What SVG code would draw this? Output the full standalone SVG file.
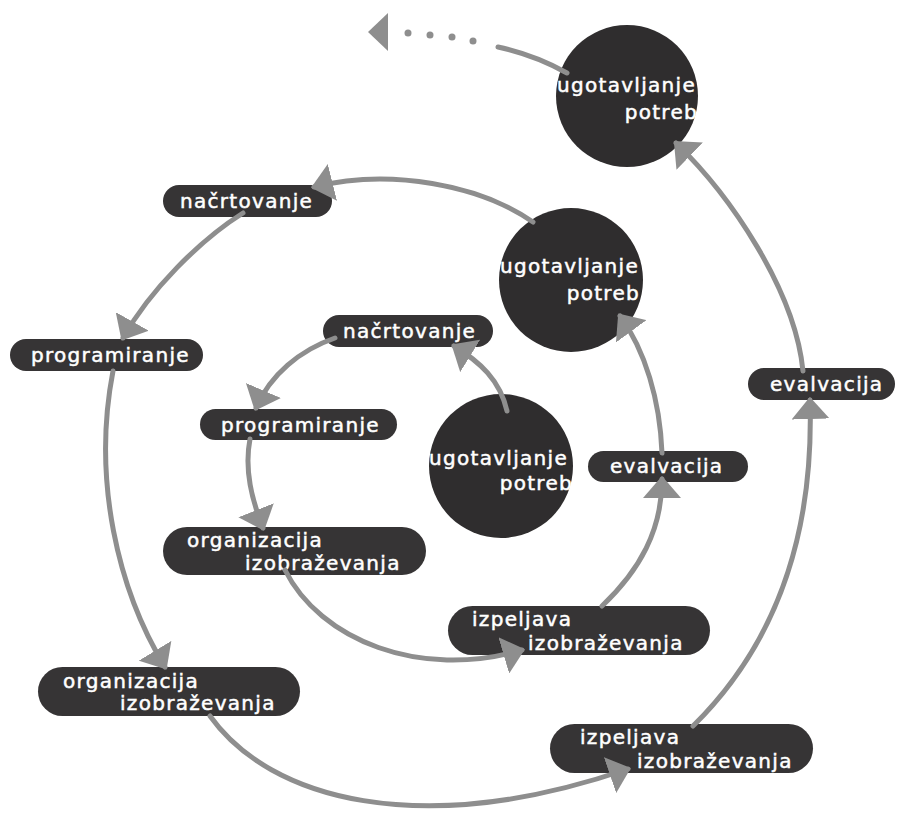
<svg xmlns="http://www.w3.org/2000/svg" width="900" height="819" viewBox="0 0 900 819">
<defs>
<style>
.pill{fill:#363435}
.circ{fill:#2f2d2e}
.t{font-family:"DejaVu Sans","Liberation Sans",sans-serif;font-size:20px;fill:#ffffff;stroke:#ffffff;stroke-width:0.5;letter-spacing:1.3px}
.tr{text-anchor:end}
.con{fill:none;stroke:#8e8e8e;stroke-width:5;stroke-linecap:round;marker-end:url(#ah)}
.dot{fill:#8e8e8e}
</style>
<marker id="ah" viewBox="0 0 22 38" refX="19" refY="19" markerWidth="22" markerHeight="38" markerUnits="userSpaceOnUse" orient="auto">
<path d="M0,0 L22,19 L0,38 z" fill="#8e8e8e"/>
</marker>
</defs>
<rect width="900" height="819" fill="#ffffff"/>

<g id="c_top">
<circle class="circ" cx="627" cy="96" r="71"/>
<text class="t" x="557" y="92">ugotavljanje</text>
<text class="t tr" x="698" y="119">potreb</text>
</g>
<g id="c_mid">
<circle class="circ" cx="571" cy="280" r="72"/>
<text class="t" x="500" y="273">ugotavljanje</text>
<text class="t tr" x="640" y="300">potreb</text>
</g>
<g id="c_inner">
<circle class="circ" cx="501" cy="466" r="72"/>
<text class="t" x="429" y="465">ugotavljanje</text>
<text class="t tr" x="573" y="490">potreb</text>
</g>

<g id="n_outer">
<rect class="pill" x="163" y="185" width="169" height="32" rx="16"/>
<text class="t" x="180" y="208">načrtovanje</text>
</g>
<g id="n_inner">
<rect class="pill" x="323" y="315" width="170" height="32" rx="16"/>
<text class="t" x="343" y="338">načrtovanje</text>
</g>
<g id="p_outer">
<rect class="pill" x="10" y="339" width="193" height="32" rx="16"/>
<text class="t" x="31" y="362">programiranje</text>
</g>
<g id="p_inner">
<rect class="pill" x="200" y="409" width="197" height="31" rx="15.5"/>
<text class="t" x="221" y="432">programiranje</text>
</g>
<g id="o_inner">
<rect class="pill" x="163" y="527" width="263" height="48" rx="24"/>
<text class="t" x="187" y="547">organizacija</text>
<text class="t" x="245" y="570">izobraževanja</text>
</g>
<g id="o_outer">
<rect class="pill" x="38" y="667" width="262" height="49" rx="24.5"/>
<text class="t" x="63" y="688">organizacija</text>
<text class="t" x="120" y="710">izobraževanja</text>
</g>
<g id="i_inner">
<rect class="pill" x="448" y="606" width="262" height="49" rx="24.5"/>
<text class="t" x="472" y="626">izpeljava</text>
<text class="t" x="528" y="650">izobraževanja</text>
</g>
<g id="i_outer">
<rect class="pill" x="550" y="724" width="263" height="49" rx="24.5"/>
<text class="t" x="580" y="744">izpeljava</text>
<text class="t" x="637" y="768">izobraževanja</text>
</g>
<g id="e_inner">
<rect class="pill" x="588" y="451" width="160" height="31" rx="15.5"/>
<text class="t" x="610" y="473">evalvacija</text>
</g>
<g id="e_outer">
<rect class="pill" x="748" y="368" width="147" height="32" rx="16"/>
<text class="t" x="770" y="391">evalvacija</text>
</g>

<g id="connectors">
<path class="con" d="M507,411 C500,380 480,362 454,346"/>
<path class="con" d="M335,338 C300,350 270,375 256,408"/>
<path class="con" d="M250,439 C244,470 252,500 263,528"/>
<path class="con" d="M285,570 C320,640 420,680 522,650"/>
<path class="con" d="M602,606 C640,570 662,530 662,479"/>
<path class="con" d="M662,453 C660,400 645,350 620,316"/>
<path class="con" d="M533,222 C480,185 390,168 314,187"/>
<path class="con" d="M243,213 C200,240 150,290 123,338"/>
<path class="con" d="M113,371 C92,480 118,590 165,667"/>
<path class="con" d="M210,716 C270,800 420,840 628,769"/>
<path class="con" d="M693,726 C760,660 815,560 810,400"/>
<path class="con" d="M803,371 C795,290 730,195 676,143"/>
<path d="M567,73 Q535,55 498,47" fill="none" stroke="#8e8e8e" stroke-width="5" stroke-linecap="round"/>
<circle class="dot" cx="473" cy="41" r="3.5"/>
<circle class="dot" cx="452" cy="37" r="3.5"/>
<circle class="dot" cx="430" cy="35" r="3.5"/>
<circle class="dot" cx="408" cy="33" r="3.5"/>
<polygon points="368,32 388,13 388,51" fill="#8e8e8e"/>
</g>
</svg>
